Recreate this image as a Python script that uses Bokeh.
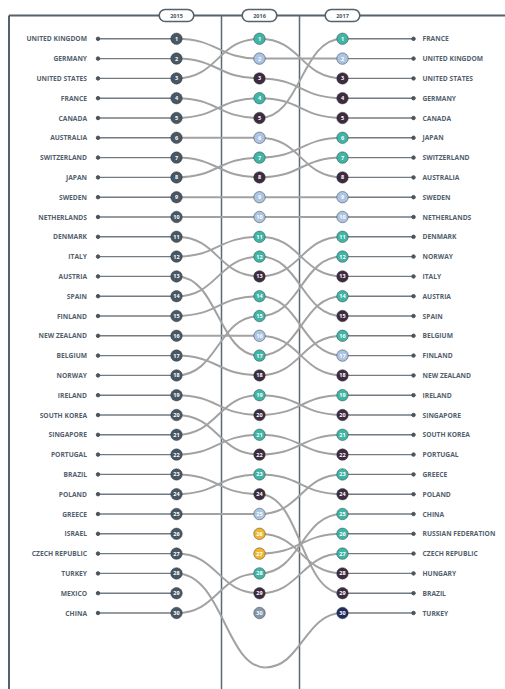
from bokeh.plotting import figure
from bokeh.models import Range1d, ColumnDataSource, Label
from bokeh.core.properties import value
from bokeh.embed import file_html
from bokeh.resources import INLINE

years = ["2015", "2016", "2017"]

rank_2015 = ["United Kingdom", "Germany", "United States", "France", "Canada",
             "Australia", "Switzerland", "Japan", "Sweden", "Netherlands",
             "Denmark", "Italy", "Austria", "Spain", "Finland",
             "New Zealand", "Belgium", "Norway", "Ireland", "South Korea",
             "Singapore", "Portugal", "Brazil", "Poland", "Greece",
             "Israel", "Czech Republic", "Turkey", "Mexico", "China"]

rank_2016 = ["United States", "United Kingdom", "Germany", "Canada", "France",
             "Australia", "Japan", "Switzerland", "Sweden", "Netherlands",
             "Italy", "Spain", "Denmark", "Finland", "Norway",
             "New Zealand", "Austria", "Belgium", "Singapore", "Ireland",
             "Portugal", "South Korea", "Poland", "Brazil", "Greece",
             "Hungary", "Russian Federation", "China", "Czech Republic", "(unlinked)"]

rank_2017 = ["France", "United Kingdom", "United States", "Germany", "Canada",
             "Japan", "Switzerland", "Australia", "Sweden", "Netherlands",
             "Denmark", "Norway", "Italy", "Austria", "Spain",
             "Belgium", "Finland", "New Zealand", "Ireland", "Singapore",
             "South Korea", "Portugal", "Greece", "Poland", "China",
             "Russian Federation", "Czech Republic", "Hungary", "Brazil", "Turkey"]

status_2016 = ["up", "same", "down", "up", "down", "same", "up", "down", "same", "same",
               "up", "up", "down", "up", "up", "same", "up", "down", "up", "down",
               "up", "down", "up", "down", "same", "new", "new", "up", "down", "other"]

status_2017 = ["up", "same", "down", "down", "down", "up", "up", "down", "same", "same",
               "up", "up", "down", "up", "down", "up", "same", "down", "up", "down",
               "up", "down", "up", "down", "up", "up", "up", "down", "down", "last"]

palette = {"base": "#485763", "up": "#3fb5a5", "same": "#aac4e2", "down": "#3e2b3f",
           "new": "#f2b62a", "other": "#8497a8", "last": "#1f2b5e"}

# layout (column units along x, rank units along y)
COL_PX = 83.0
ROW_PX = 19.8
W, H = 505, 689
x_start = -176 / COL_PX
x_end = x_start + W / COL_PX
y_top = 1 - 38.3 / ROW_PX
y_bottom = y_top + H / ROW_PX
header_rank = 1 + (15 - 38.3) / ROW_PX
left_label_x = (86.5 - 176) / COL_PX
left_dot_x = (97.5 - 176) / COL_PX
right_dot_x = (413 - 176) / COL_PX
right_label_x = (422 - 176) / COL_PX
frame_x = (8.5 - 176) / COL_PX
dividers = [(221 - 176) / COL_PX, (299 - 176) / COL_PX]

p = figure(width=W, height=H, x_range=Range1d(x_start, x_end),
           y_range=Range1d(y_bottom, y_top), output_backend="svg",
           toolbar_location=None, min_border=0,
           x_axis_location=None, y_axis_location=None)
p.grid.visible = False
p.outline_line_color = None
p.background_fill_color = "white"
p.border_fill_color = "white"

# frame
frame_col = "#56616a"
p.segment(x0=[frame_x], y0=[header_rank], x1=[x_end], y1=[header_rank],
          line_color=frame_col, line_width=2)
p.segment(x0=[frame_x], y0=[header_rank], x1=[frame_x], y1=[y_bottom],
          line_color=frame_col, line_width=2)
p.segment(x0=dividers, y0=[header_rank] * 2, x1=dividers, y1=[y_bottom] * 2,
          line_color="#5d6871", line_width=1.5)

ranks = [rank_2015, rank_2016, rank_2017]

# links between consecutive years
lx0, ly0, lx1, ly1, lcx0, lcy0, lcx1, lcy1 = [], [], [], [], [], [], [], []
for c in range(2):
    a, b = ranks[c], ranks[c + 1]
    for i, name in enumerate(a):
        if name in b:
            j = b.index(name)
            r0, r1 = i + 1, j + 1
            lx0.append(c); ly0.append(r0); lx1.append(c + 1); ly1.append(r1)
            lcx0.append(c + 0.5); lcy0.append(r0); lcx1.append(c + 0.5); lcy1.append(r1)

# countries skipping the middle year dip below the chart
for i, name in enumerate(rank_2015):
    if name not in rank_2016 and name in rank_2017:
        r0 = i + 1
        r2 = rank_2017.index(name) + 1
        rb = max(r0, r2) + 2.75
        xb = 1.07
        lx0 += [0, xb]; ly0 += [r0, rb]; lx1 += [xb, 2]; ly1 += [rb, r2]
        lcx0 += [0.55, xb + 0.43]; lcy0 += [r0, rb]
        lcx1 += [0.6, 1.55]; lcy1 += [rb, r2]

p.bezier(x0=lx0, y0=ly0, x1=lx1, y1=ly1, cx0=lcx0, cy0=lcy0, cx1=lcx1, cy1=lcy1,
         line_color="#a2a2a2", line_width=2)

# feeder lines and dots
n15 = list(range(1, len(rank_2015) + 1))
n17 = list(range(1, len(rank_2017) + 1))
p.segment(x0=[left_dot_x] * len(n15), y0=n15, x1=[0] * len(n15), y1=n15,
          line_color="#737b81", line_width=1.4)
p.segment(x0=[2] * len(n17), y0=n17, x1=[right_dot_x] * len(n17), y1=n17,
          line_color="#737b81", line_width=1.4)
p.scatter(x=[left_dot_x] * len(n15), y=n15, size=3.5, color="#4a545c")
p.scatter(x=[right_dot_x] * len(n17), y=n17, size=3.5, color="#4a545c")

# circles
cx, cy, cc, ct = [], [], [], []
stat = [["base"] * len(rank_2015), status_2016, status_2017]
for c in range(3):
    for i in range(len(ranks[c])):
        cx.append(c); cy.append(i + 1); cc.append(palette[stat[c][i]]); ct.append(str(i + 1))
src = ColumnDataSource(dict(x=cx, y=cy, color=cc, t=ct))
p.scatter(x="x", y="y", size=11.5, fill_color="color", line_color="#2e3438",
          line_width=0.8, line_alpha=0.6, source=src)
p.text(x="x", y="y", text="t", source=src, text_align="center", text_baseline="middle",
       text_color="white", text_font=value("Open Sans"), text_font_style="bold",
       text_font_size="5.5px")

# country labels
lab_font = value("Open Sans")
p.text(x=[left_label_x] * len(rank_2015), y=n15, text=[s.upper() for s in rank_2015],
       text_align="right", text_baseline="middle", text_font=lab_font,
       text_font_style="bold", text_font_size="6.7px", text_color="#53616e")
p.text(x=[right_label_x] * len(rank_2017), y=n17, text=[s.upper() for s in rank_2017],
       text_align="left", text_baseline="middle", text_font=lab_font,
       text_font_style="bold", text_font_size="6.7px", text_color="#53616e")

# year pills
for c, yr in enumerate(years):
    p.add_layout(Label(x=c, y=header_rank, text=yr, text_align="center",
                       text_baseline="middle", text_font_size="5.5px",
                       text_font="Open Sans", text_font_style="bold",
                       text_color="#4a545c",
                       background_fill_color="white", border_line_color="#56616a",
                       border_line_width=1.6, border_radius=6,
                       padding=dict(x=11, y=4)))

open("out.html", "w").write(file_html(p, INLINE))
